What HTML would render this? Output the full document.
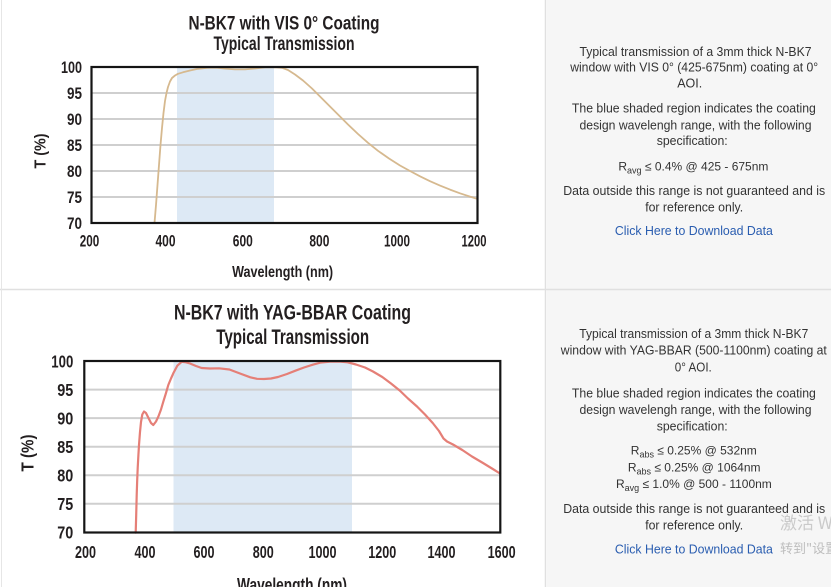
<!DOCTYPE html>
<html>
<head>
<meta charset="utf-8">
<style>
html,body{margin:0;padding:0;background:#fff;}
svg{display:block;}
.ct{font-family:"Liberation Sans",sans-serif;font-weight:bold;fill:#231f20;}
.rt{font-family:"Liberation Sans","Noto Sans CJK SC",sans-serif;font-size:12.5px;fill:#333;text-anchor:middle;}
.sp{font-size:12px;}
.lk{fill:#2a5db0;}
</style>
</head>
<body>
<svg width="831" height="587" viewBox="0 0 831 587" xmlns="http://www.w3.org/2000/svg">
  <!-- backgrounds -->
  <rect x="0" y="0" width="831" height="587" fill="#ffffff"/>
  <rect x="547" y="0" width="284" height="587" fill="#f6f6f6"/>
  <line x1="545.5" y1="0" x2="545.5" y2="587" stroke="#e0e0e0" stroke-width="1.5"/>
  <line x1="0" y1="289.5" x2="831" y2="289.5" stroke="#e0e0e0" stroke-width="1.5"/>
  <line x1="1.5" y1="0" x2="1.5" y2="587" stroke="#e6e6e6" stroke-width="1"/>

  <!-- ================= CHART 1 ================= -->
  <text class="ct" x="284" y="29.5" font-size="19.5" text-anchor="middle" textLength="191" lengthAdjust="spacingAndGlyphs">N-BK7 with VIS 0° Coating</text>
  <text class="ct" x="284" y="50" font-size="19.5" text-anchor="middle" textLength="141" lengthAdjust="spacingAndGlyphs">Typical Transmission</text>

  <rect x="177" y="67" width="97" height="156" fill="#dde9f5"/>
  <g stroke="#cfcfcf" stroke-width="2">
    <line x1="92" y1="93" x2="477" y2="93"/>
    <line x1="92" y1="119" x2="477" y2="119"/>
    <line x1="92" y1="145" x2="477" y2="145"/>
    <line x1="92" y1="171" x2="477" y2="171"/>
    <line x1="92" y1="197" x2="477" y2="197"/>
  </g>
  <polyline fill="none" stroke="#d6b98f" stroke-width="1.8" stroke-linejoin="round" stroke-linecap="round"
    points="154.5,223 156,205 157.5,185 159,165 160.5,145 162,128 163.5,113 165,101 166.5,93 168,87 170,81.5 172,78 175,75.5 178,73.8 183,72.3 190,70.5 198,68.8 207,67.8 216,67.6 225,68.6 235,69.4 245,69.4 255,68.5 265,67.4 275,67.2 282,67.8 288,70 295,74.5 303,80.5 312,88.5 321,97.5 330,106.5 339,115.5 348,124.5 358,134 368,142.8 378,150.8 389,158.5 400,165.5 410,171 420,176.3 430,181.2 440,185.6 450,189.6 460,193.3 470,196.6 477,198.8"/>
  <rect x="91.5" y="67" width="386" height="156" fill="none" stroke="#151515" stroke-width="2.2"/>

  <g class="ct" font-size="16.5" text-anchor="end">
    <text x="82" y="73" textLength="21" lengthAdjust="spacingAndGlyphs">100</text>
    <text x="82" y="99" textLength="15" lengthAdjust="spacingAndGlyphs">95</text>
    <text x="82" y="125" textLength="15" lengthAdjust="spacingAndGlyphs">90</text>
    <text x="82" y="151" textLength="15" lengthAdjust="spacingAndGlyphs">85</text>
    <text x="82" y="177" textLength="15" lengthAdjust="spacingAndGlyphs">80</text>
    <text x="82" y="203" textLength="15" lengthAdjust="spacingAndGlyphs">75</text>
    <text x="82" y="229" textLength="15" lengthAdjust="spacingAndGlyphs">70</text>
  </g>
  <g class="ct" font-size="16.5" text-anchor="middle">
    <text x="89.5" y="246.5" textLength="19.5" lengthAdjust="spacingAndGlyphs">200</text>
    <text x="165.5" y="246.5" textLength="20" lengthAdjust="spacingAndGlyphs">400</text>
    <text x="242.8" y="246.5" textLength="20" lengthAdjust="spacingAndGlyphs">600</text>
    <text x="319.4" y="246.5" textLength="20" lengthAdjust="spacingAndGlyphs">800</text>
    <text x="397" y="246.5" textLength="26" lengthAdjust="spacingAndGlyphs">1000</text>
    <text x="474" y="246.5" textLength="25" lengthAdjust="spacingAndGlyphs">1200</text>
  </g>
  <text class="ct" x="282.6" y="277" font-size="16" text-anchor="middle" textLength="101" lengthAdjust="spacingAndGlyphs">Wavelength (nm)</text>
  <text class="ct" transform="translate(45.5,151) rotate(-90)" x="0" y="0" font-size="16" text-anchor="middle" textLength="35" lengthAdjust="spacingAndGlyphs">T (%)</text>

  <!-- ================= CHART 2 ================= -->
  <text class="ct" x="292.5" y="319.7" font-size="21" text-anchor="middle" textLength="237" lengthAdjust="spacingAndGlyphs">N-BK7 with YAG-BBAR Coating</text>
  <text class="ct" x="292.7" y="344" font-size="21" text-anchor="middle" textLength="153" lengthAdjust="spacingAndGlyphs">Typical Transmission</text>

  <rect x="173.5" y="361" width="178.5" height="171.5" fill="#dde9f5"/>
  <g stroke="#cfcfcf" stroke-width="2">
    <line x1="85" y1="389.6" x2="500" y2="389.6"/>
    <line x1="85" y1="418.1" x2="500" y2="418.1"/>
    <line x1="85" y1="446.7" x2="500" y2="446.7"/>
    <line x1="85" y1="475.2" x2="500" y2="475.2"/>
    <line x1="85" y1="503.8" x2="500" y2="503.8"/>
  </g>
  <polyline fill="none" stroke="#e57f77" stroke-width="2.2" stroke-linejoin="round" stroke-linecap="round"
    points="135.7,532.7 136.2,515 136.7,495 137.2,480 137.7,468 138.4,455 139,445 140,432 141,422 142.3,414.5 144,411.5 146,413 148.5,418 151,423 153.3,425 156,421.5 158.3,416.7 161,409.5 163.3,401.7 166,393 168.3,385 171,378.5 173.3,373.3 177.3,365.7 181.7,361.8 186,362.3 190,363.5 196,366 201.6,368 210,368.5 219,368.3 229.4,369.5 240,373.5 250.3,377.3 257,378.8 264,379 271,378.5 278,377 287,374 295.4,370.7 304,367.5 312.8,364.7 321,362.5 330,361.6 339,361.5 347.6,362.3 356,364.5 365,367.5 373,371.5 382.3,377 391,383.5 399.7,390.5 408,398.5 417,406.5 425,414.5 432.7,423 439,431 443.5,438.5 447,441.5 453,444.5 462.3,450 472,456.5 483,463 492,468.5 500,473.5"/>
  <rect x="84.3" y="361" width="416" height="171.5" fill="none" stroke="#151515" stroke-width="2.2"/>

  <g class="ct" font-size="17.5" text-anchor="end">
    <text x="73.3" y="367.3" textLength="22" lengthAdjust="spacingAndGlyphs">100</text>
    <text x="73.3" y="395.9" textLength="16" lengthAdjust="spacingAndGlyphs">95</text>
    <text x="73.3" y="424.4" textLength="16" lengthAdjust="spacingAndGlyphs">90</text>
    <text x="73.3" y="453" textLength="16" lengthAdjust="spacingAndGlyphs">85</text>
    <text x="73.3" y="481.5" textLength="16" lengthAdjust="spacingAndGlyphs">80</text>
    <text x="73.3" y="510.1" textLength="16" lengthAdjust="spacingAndGlyphs">75</text>
    <text x="73.3" y="538.7" textLength="16" lengthAdjust="spacingAndGlyphs">70</text>
  </g>
  <g class="ct" font-size="17.5" text-anchor="middle">
    <text x="85.5" y="558" textLength="21" lengthAdjust="spacingAndGlyphs">200</text>
    <text x="145" y="558" textLength="21" lengthAdjust="spacingAndGlyphs">400</text>
    <text x="204" y="558" textLength="21" lengthAdjust="spacingAndGlyphs">600</text>
    <text x="263.3" y="558" textLength="21" lengthAdjust="spacingAndGlyphs">800</text>
    <text x="322.5" y="558" textLength="28" lengthAdjust="spacingAndGlyphs">1000</text>
    <text x="382.3" y="558" textLength="28" lengthAdjust="spacingAndGlyphs">1200</text>
    <text x="441.5" y="558" textLength="28" lengthAdjust="spacingAndGlyphs">1400</text>
    <text x="501.6" y="558" textLength="28" lengthAdjust="spacingAndGlyphs">1600</text>
  </g>
  <text class="ct" x="292" y="591" font-size="18" text-anchor="middle" textLength="110" lengthAdjust="spacingAndGlyphs">Wavelength (nm)</text>
  <text class="ct" transform="translate(33.5,453) rotate(-90)" x="0" y="0" font-size="17.5" text-anchor="middle" textLength="37" lengthAdjust="spacingAndGlyphs">T (%)</text>

  <!-- ================= RIGHT COLUMN PANEL 1 ================= -->
  <text class="rt" x="695.5" y="56" textLength="232" lengthAdjust="spacingAndGlyphs">Typical transmission of a 3mm thick N-BK7</text>
  <text class="rt" x="694.2" y="71.7" textLength="248" lengthAdjust="spacingAndGlyphs">window with VIS 0° (425-675nm) coating at 0°</text>
  <text class="rt" x="689.7" y="87.3">AOI.</text>
  <text class="rt" x="693.9" y="112.7" textLength="244" lengthAdjust="spacingAndGlyphs">The blue shaded region indicates the coating</text>
  <text class="rt" x="695.5" y="129.3" textLength="232" lengthAdjust="spacingAndGlyphs">design wavelengh range, with the following</text>
  <text class="rt" x="692.2" y="145" textLength="71" lengthAdjust="spacingAndGlyphs">specification:</text>
  <text class="rt sp" x="693.4" y="170.7">R<tspan font-size="9" dy="3">avg</tspan><tspan dy="-3"> ≤ 0.4% @ 425 - 675nm</tspan></text>
  <text class="rt" x="694.2" y="195" textLength="262" lengthAdjust="spacingAndGlyphs">Data outside this range is not guaranteed and is</text>
  <text class="rt" x="694.2" y="211.7" textLength="98" lengthAdjust="spacingAndGlyphs">for reference only.</text>
  <text class="rt lk" x="693.9" y="235" textLength="158" lengthAdjust="spacingAndGlyphs">Click Here to Download Data</text>

  <!-- ================= RIGHT COLUMN PANEL 2 ================= -->
  <text class="rt" x="693.8" y="338" textLength="229" lengthAdjust="spacingAndGlyphs">Typical transmission of a 3mm thick N-BK7</text>
  <text class="rt" x="693.8" y="354.7" textLength="266" lengthAdjust="spacingAndGlyphs">window with YAG-BBAR (500-1100nm) coating at</text>
  <text class="rt" x="693.3" y="371.3" textLength="37" lengthAdjust="spacingAndGlyphs">0° AOI.</text>
  <text class="rt" x="693.9" y="397.3" textLength="244" lengthAdjust="spacingAndGlyphs">The blue shaded region indicates the coating</text>
  <text class="rt" x="695.5" y="414" textLength="232" lengthAdjust="spacingAndGlyphs">design wavelengh range, with the following</text>
  <text class="rt" x="692.2" y="430.7" textLength="71" lengthAdjust="spacingAndGlyphs">specification:</text>
  <text class="rt sp" x="693.8" y="454.7">R<tspan font-size="9" dy="3">abs</tspan><tspan dy="-3"> ≤ 0.25% @ 532nm</tspan></text>
  <text class="rt sp" x="694.2" y="471.3">R<tspan font-size="9" dy="3">abs</tspan><tspan dy="-3"> ≤ 0.25% @ 1064nm</tspan></text>
  <text class="rt sp" x="693.9" y="488">R<tspan font-size="9" dy="3">avg</tspan><tspan dy="-3"> ≤ 1.0% @ 500 - 1100nm</tspan></text>
  <text class="rt" x="694.2" y="513" textLength="262" lengthAdjust="spacingAndGlyphs">Data outside this range is not guaranteed and is</text>
  <text class="rt" x="694.2" y="529.7" textLength="98" lengthAdjust="spacingAndGlyphs">for reference only.</text>
  <text class="rt lk" x="693.9" y="553.7" textLength="158" lengthAdjust="spacingAndGlyphs">Click Here to Download Data</text>

  <!-- watermark -->
  <text x="780" y="529" font-family="'Noto Sans CJK SC','Liberation Sans',sans-serif" font-size="17" fill="#cacaca">激活 Windows</text>
  <text x="780" y="553" font-family="'Noto Sans CJK SC','Liberation Sans',sans-serif" font-size="13" fill="#bdbdbd">转到"设置"以激活 Windows。</text>
</svg>
</body>
</html>
